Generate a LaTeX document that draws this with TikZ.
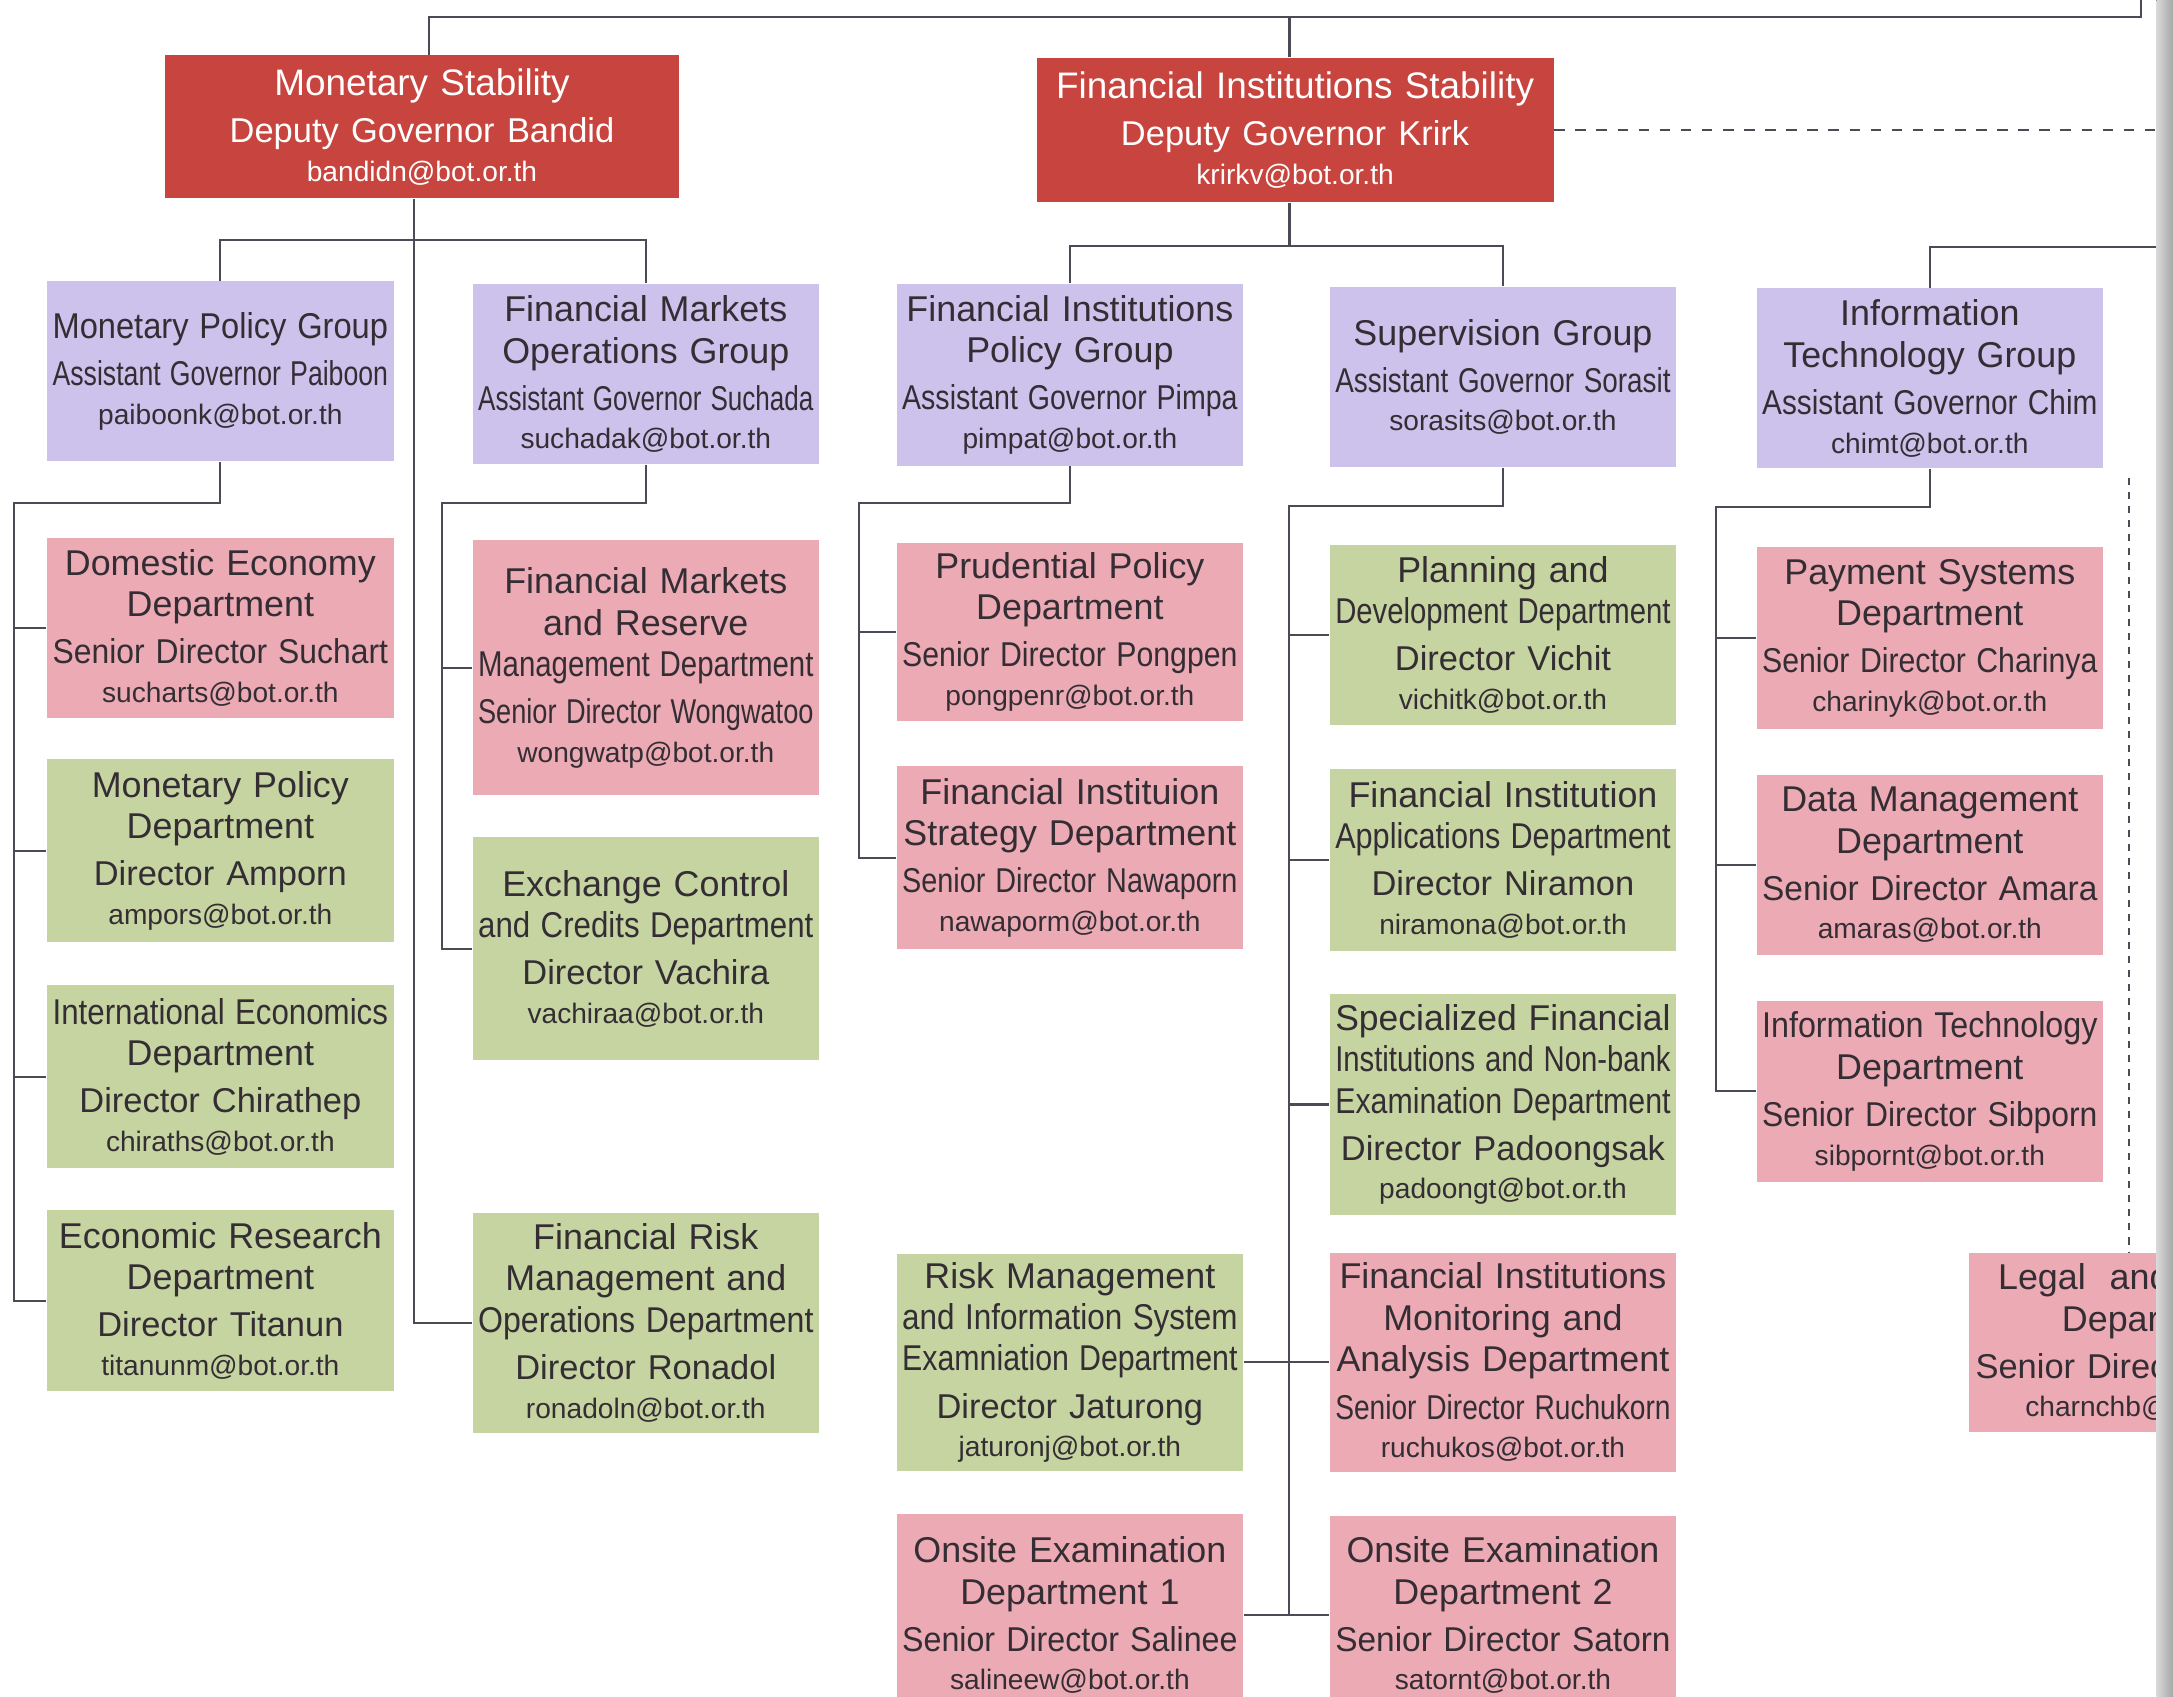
\documentclass[tikz,border=0pt]{standalone}
\usepackage{fontspec}
\setmainfont{Liberation Sans}
\usepackage{xcolor}
\usepackage{graphicx}
\usepackage{tikz}
\definecolor{botred}{RGB}{200,68,62}
\definecolor{botlilac}{RGB}{204,194,236}
\definecolor{botpink}{RGB}{235,170,180}
\definecolor{botgreen}{RGB}{197,212,160}
\definecolor{botink}{RGB}{52,46,52}
\definecolor{botline}{RGB}{75,75,85}

\newdimen\px \px=0.01386cm
\newdimen\tw \tw=242\px
\newsavebox\flbox
% squeeze a line sideways when it is wider than the box
\newcommand\fl[2][]{\sbox\flbox{#1#2}\ifdim\wd\flbox>\tw\resizebox{\tw}{\height}{\usebox\flbox}\else\usebox\flbox\fi}
\newcommand\who[1]{\\[1.6pt]\fl[\fontsize{9.8}{11}\selectfont]{#1}}
\newcommand\mail[1]{\\[-0.8pt]\fl[\fontsize{8}{9}\selectfont]{#1}}

\tikzset{
  box/.style={rectangle, inner sep=0pt, minimum width=250\px, text width=242\px, align=center,
    text=botink, font=\fontsize{10.2}{11.8}\selectfont, execute at begin node={\tw=242\px}},
  exec/.style={box, fill=botred, text=white, text width=360\px, font=\fontsize{10.5}{11.8}\selectfont,
    execute at begin node={\tw=360\px}},
  grp/.style={box, fill=botlilac},
  pdept/.style={box, fill=botpink},
  gdept/.style={box, fill=botgreen},
  link/.style={draw=botline, line width=0.6pt}
}

\begin{document}
\begin{tikzpicture}[x=0.01386cm, y=-0.01386cm]
    \useasboundingbox (0,0) rectangle (1568,1224);
    \clip (0,0) rectangle (1568,1224);

    \node[exec, minimum width=371\px, minimum height=103\px] (ms) at (304.5,91.5) {\fl{Monetary Stability}\who{Deputy Governor Bandid}\mail{bandidn@bot.or.th}};
    \node[exec, minimum width=373\px, minimum height=104\px] (fis) at (934.5,94) {\fl{Financial Institutions Stability}\who{Deputy Governor Krirk}\mail{krirkv@bot.or.th}};

    \node[grp, minimum height=130\px] (mpg) at (159,268) {\fl{Monetary Policy Group}\who{Assistant Governor Paiboon}\mail{paiboonk@bot.or.th}};
    \node[grp, minimum height=130\px] (fmog) at (466,270) {\fl{Financial Markets}\\\fl{Operations Group}\who{Assistant Governor Suchada}\mail{suchadak@bot.or.th}};
    \node[grp, minimum height=131\px] (fipg) at (772,270.5) {\fl{Financial Institutions}\\\fl{Policy Group}\who{Assistant Governor Pimpa}\mail{pimpat@bot.or.th}};
    \node[grp, minimum height=130\px] (sg) at (1084.5,272) {\fl{Supervision Group}\who{Assistant Governor Sorasit}\mail{sorasits@bot.or.th}};
    \node[grp, minimum height=130\px] (itg) at (1392.5,273) {\fl{Information}\\\fl{Technology Group}\who{Assistant Governor Chim}\mail{chimt@bot.or.th}};

    \node[pdept, minimum height=130\px] (domecon) at (159,453) {\fl{Domestic Economy}\\\fl{Department}\who{Senior Director Suchart}\mail{sucharts@bot.or.th}};
    \node[gdept, minimum height=132\px] (mpd) at (159,614) {\fl{Monetary Policy}\\\fl{Department}\who{Director Amporn}\mail{ampors@bot.or.th}};
    \node[gdept, minimum height=132\px] (ied) at (159,777) {\fl{International Economics}\\\fl{Department}\who{Director Chirathep}\mail{chiraths@bot.or.th}};
    \node[gdept, minimum height=131\px] (erd) at (159,938.5) {\fl{Economic Research}\\\fl{Department}\who{Director Titanun}\mail{titanunm@bot.or.th}};

    \node[pdept, minimum height=184\px] (fmrd) at (466,482) {\fl{Financial Markets}\\\fl{and Reserve}\\\fl{Management Department}\who{Senior Director Wongwatoo}\mail{wongwatp@bot.or.th}};
    \node[gdept, minimum height=161\px] (eccd) at (466,684.5) {\fl{Exchange Control}\\\fl{and Credits Department}\who{Director Vachira}\mail{vachiraa@bot.or.th}};
    \node[gdept, minimum height=159\px] (frmo) at (466,954.5) {\fl{Financial Risk}\\\fl{Management and}\\\fl{Operations Department}\who{Director Ronadol}\mail{ronadoln@bot.or.th}};

    \node[pdept, minimum height=128\px] (ppd) at (772,456) {\fl{Prudential Policy}\\\fl{Department}\who{Senior Director Pongpen}\mail{pongpenr@bot.or.th}};
    \node[pdept, minimum height=132\px] (fisd) at (772,619) {\fl{Financial Instituion}\\\fl{Strategy Department}\who{Senior Director Nawaporn}\mail{nawaporm@bot.or.th}};
    \node[gdept, minimum height=157\px] (rmis) at (772,983) {\fl{Risk Management}\\\fl{and Information System}\\\fl{Examniation Department}\who{Director Jaturong}\mail{jaturonj@bot.or.th}};
    \node[pdept, minimum height=146\px] (ons1) at (772,1165.5) {\fl{Onsite Examination}\\\fl{Department 1}\who{Senior Director Salinee}\mail{salineew@bot.or.th}};

    \node[gdept, minimum height=130\px] (pdd) at (1084.5,458) {\fl{Planning and}\\\fl{Development Department}\who{Director Vichit}\mail{vichitk@bot.or.th}};
    \node[gdept, minimum height=131\px] (fiad) at (1084.5,620.5) {\fl{Financial Institution}\\\fl{Applications Department}\who{Director Niramon}\mail{niramona@bot.or.th}};
    \node[gdept, minimum height=160\px] (sfid) at (1084.5,797) {\fl{Specialized Financial}\\\fl{Institutions and Non-bank}\\\fl{Examination Department}\who{Director Padoongsak}\mail{padoongt@bot.or.th}};
    \node[pdept, minimum height=158\px] (fima) at (1084.5,983) {\fl{Financial Institutions}\\\fl{Monitoring and}\\\fl{Analysis Department}\who{Senior Director Ruchukorn}\mail{ruchukos@bot.or.th}};
    \node[pdept, minimum height=143\px] (ons2) at (1084.5,1165.5) {\fl{Onsite Examination}\\\fl{Department 2}\who{Senior Director Satorn}\mail{satornt@bot.or.th}};

    \node[pdept, minimum height=131\px] (psd) at (1392.5,460.5) {\fl{Payment Systems}\\\fl{Department}\who{Senior Director Charinya}\mail{charinyk@bot.or.th}};
    \node[pdept, minimum height=130\px] (dmd) at (1392.5,624) {\fl{Data Management}\\\fl{Department}\who{Senior Director Amara}\mail{amaras@bot.or.th}};
    \node[pdept, minimum height=131\px] (itd) at (1392.5,787.5) {\fl{Information Technology}\\\fl{Department}\who{Senior Director Sibporn}\mail{sibpornt@bot.or.th}};

    \node[pdept, anchor=west, minimum width=150\px, text width=140\px, align=right, minimum height=129\px] (legal) at (1420,968.5) {Legal\ \ and\\Depart\who{Senior Directo}\mail{charnchb@}};

    \coordinate (topend) at (1545,0);
    \coordinate (topbus) at (1545,12);
    \coordinate (rightedge) at (1556,94);
    \coordinate (itgbus) at (1556,178);
    \coordinate (railA) at (10,363);
    \coordinate (railB) at (319,363);
    \coordinate (railC) at (620,363);
    \coordinate (railD) at (930,365);
    \coordinate (railE) at (1238,366);
    \coordinate (dottop) at (1536,345);

    \draw[link] ([xshift=5\px]ms.north) |- (topbus) -- (topend);
    \draw[link] ([xshift=-4\px]fis.north) -- ([xshift=-4\px]fis.north |- topbus);
    \draw[link, dashed] (fis.east) -- (rightedge);

    \draw[link] (mpg.north) -- ++(0,-29) -| (fmog.north);
    \draw[link] ([xshift=-6\px]ms.south) |- (frmo.west);
    \draw[link] (fipg.north) -- ++(0,-27) -| (sg.north);
    \draw[link] ([xshift=-4\px]fis.south) -- ++(0,32);
    \draw[link] (itg.north) |- (itgbus);

    \draw[link] (mpg.south) |- (railA) |- (erd.west);
    \foreach \dep in {domecon,mpd,ied}
        \draw[link] (railA |- \dep.west) -- (\dep.west);

    \draw[link] (fmog.south) |- (railB) |- (eccd.west);
    \draw[link] (railB |- fmrd.west) -- (fmrd.west);

    \draw[link] (fipg.south) |- (railC) |- (fisd.west);
    \draw[link] (railC |- ppd.west) -- (ppd.west);

    \draw[link] (sg.south) |- (railD) -- (railD |- ons1.east);
    \foreach \dep in {pdd,fiad,sfid}
        \draw[link] (railD |- \dep.west) -- (\dep.west);
    \draw[link] (rmis.east) -- (fima.west);
    \draw[link] (ons1.east) -- (ons2.west);

    \draw[link] (itg.south) |- (railE) |- (itd.west);
    \foreach \dep in {psd,dmd}
        \draw[link] (railE |- \dep.west) -- (\dep.west);

    \draw[link, dash pattern=on 2pt off 2pt] (dottop) -- (dottop |- legal.north);

    \fill[left color=gray!30, right color=gray!70] (1556,0) rectangle (1568,1224);
\end{tikzpicture}
\end{document}
